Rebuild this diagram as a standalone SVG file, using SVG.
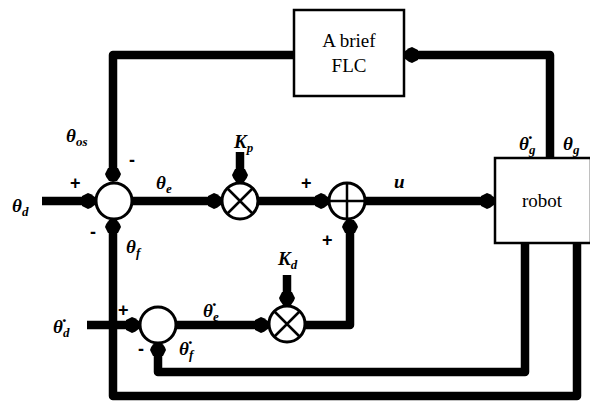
<svg xmlns="http://www.w3.org/2000/svg" width="590" height="403" viewBox="0 0 590 403">
<defs>
<style>
.w{fill:none;stroke:#000;stroke-width:8.5;stroke-linejoin:round}
.a{marker-end:url(#ah)}
.blk{fill:#fff;stroke:#000;stroke-width:2.5}
.op{fill:#fff;stroke:#000;stroke-width:3}
.ln{stroke:#000;stroke-width:2.5}
.m{font-family:'Liberation Serif',serif;font-weight:bold;font-style:italic;font-size:19px}
.s{font-size:13px}
.sg{font-family:'Liberation Sans',sans-serif;font-weight:bold;font-size:18px}
.t{font-family:'Liberation Serif',serif;font-size:19px;text-anchor:middle}
</style>
<marker id="ah" markerUnits="userSpaceOnUse" viewBox="-14 -9 16 18" refX="0" refY="0" markerWidth="16" markerHeight="18" orient="auto">
<path d="M-13,-5 L-7,-8 Q0,-6 1,0 Q0,6 -7,8 L-13,5 Z" fill="#000"/>
</marker>
</defs>
<rect width="590" height="403" fill="#fff"/>
<g id="connectors">
<path class="w a" d="M550,157 V55 H405"/>
<path class="w a" d="M294,55 H113 V181"/>
<path class="w a" d="M42,201 H95"/>
<path class="w a" d="M132,201 H221"/>
<path class="w a" d="M240,152 V182"/>
<path class="w a" d="M258,201 H328"/>
<path class="w a" d="M365,201 H494"/>
<path class="w a" d="M577,243 V396 H113 V220"/>
<path class="w a" d="M87,325 H139"/>
<path class="w a" d="M176,325 H268"/>
<path class="w a" d="M287,275 V305"/>
<path class="w a" d="M305,325 H350 V220"/>
<path class="w a" d="M525,243 V372 H158 V343"/>
</g>
<g id="flc"><rect class="blk" x="294" y="10" width="110" height="86"/><text class="t" x="349" y="47">A brief</text><text class="t" x="349" y="72">FLC</text></g>
<g id="robot"><rect class="blk" x="495" y="158" width="96" height="85"/><text class="t" x="542" y="207">robot</text></g>
<g id="sum1"><circle class="op" cx="114" cy="201" r="18"/></g>
<g id="mulp"><circle class="op" cx="240" cy="201" r="18"/><path class="ln" d="M227,188 L253,214 M253,188 L227,214"/></g>
<g id="add"><circle class="op" cx="347" cy="201" r="18"/><path class="ln" d="M347,183 V219 M329,201 H365"/></g>
<g id="sum2"><circle class="op" cx="158" cy="325" r="18"/></g>
<g id="muld"><circle class="op" cx="287" cy="324" r="18"/><path class="ln" d="M274,311 L300,337 M300,311 L274,337"/></g>
<g id="labels">
<text class="m" x="66" y="142">θ<tspan class="s" dy="4">os</tspan></text>
<text class="sg" x="129" y="166">-</text>
<text class="sg" x="70" y="189">+</text>
<text class="m" x="156" y="189">θ<tspan class="s" dy="4">e</tspan></text>
<text class="m" x="12" y="212">θ<tspan class="s" dy="4">d</tspan></text>
<text class="sg" x="90" y="238">-</text>
<text class="m" x="126" y="253">θ<tspan class="s" dy="4">f</tspan></text>
<text class="m" x="234" y="148">K<tspan class="s" dy="4">p</tspan></text>
<text class="sg" x="301" y="189">+</text>
<text class="sg" x="322" y="246">+</text>
<text class="m" x="394" y="188">u</text>
<text class="m" x="519" y="150">θ̇<tspan class="s" dy="4">g</tspan></text>
<text class="m" x="563" y="150">θ<tspan class="s" dy="4">g</tspan></text>
<text class="m" x="53" y="333">θ̇<tspan class="s" dy="4">d</tspan></text>
<text class="sg" x="118" y="316">+</text>
<text class="m" x="203" y="317">θ̇<tspan class="s" dy="4">e</tspan></text>
<text class="m" x="179" y="355">θ̇<tspan class="s" dy="4">f</tspan></text>
<text class="sg" x="138" y="355">-</text>
<text class="m" x="278" y="265">K<tspan class="s" dy="4">d</tspan></text>
</g>
</svg>
